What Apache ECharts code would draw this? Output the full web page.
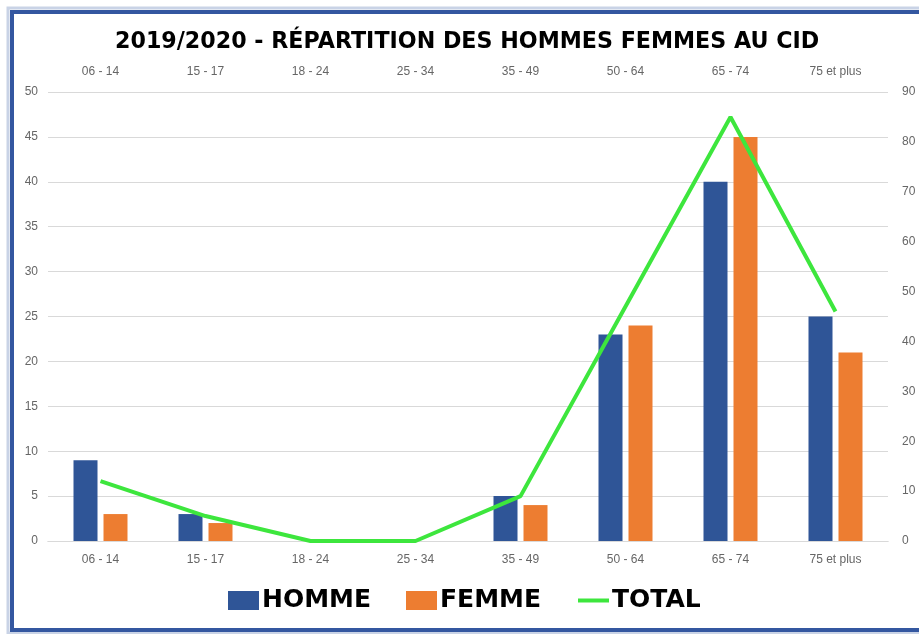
<!DOCTYPE html>
<html>
<head>
<meta charset="utf-8">
<script src="https://cdn.jsdelivr.net/npm/echarts@6/dist/echarts.min.js"></script>
<style>
html,body{margin:0;padding:0;background:#ffffff;overflow:hidden;}
#chart{width:919px;height:634px;}
</style>
</head>
<body>
<div id="chart"></div>
<script>
const categories = ['06 - 14','15 - 17','18 - 24','25 - 34','35 - 49','50 - 64','65 - 74','75 et plus'];
const homme = [9, 3, 0, 0, 5, 23, 40, 25];
const femme = [3, 2, 0, 0, 4, 24, 45, 21];
const total = [12, 5, 0, 0, 9, 47, 85, 46];
const titleText = '2019/2020 - RÉPARTITION DES HOMMES FEMMES AU CID';

const chart = echarts.init(document.getElementById('chart'));
const labelStyle = {color:'#666666', fontSize:12, fontFamily:'Liberation Sans'};
chart.setOption({
  animation:false,
  backgroundColor:'#ffffff',
  title:{text:titleText,left:110,top:26,
    textStyle:{fontFamily:'DejaVu Sans',fontWeight:'bold',fontSize:22.2,color:'#000000'}},
  legend:{top:583,left:223,itemWidth:31,itemHeight:19,itemGap:35,
    textStyle:{fontFamily:'DejaVu Sans',fontWeight:'bold',fontSize:25,color:'#000000',padding:[0,0,0,-2]},
    data:[{name:'HOMME',icon:'rect'},{name:'FEMME',icon:'rect'},
          {name:'TOTAL',itemStyle:{opacity:0},lineStyle:{width:4,color:'#3de63d'}}]},
  grid:{left:48,right:31,top:92,bottom:93},
  xAxis:[
    {type:'category',data:categories,position:'bottom',
     axisLine:{lineStyle:{color:'#d9d9d9'}},axisTick:{lineStyle:{color:'#d9d9d9'},length:5},
     axisLabel:Object.assign({margin:13},labelStyle)},
    {type:'category',data:categories,position:'top',
     axisLine:{lineStyle:{color:'#d9d9d9'}},axisTick:{lineStyle:{color:'#d9d9d9'},length:5},
     axisLabel:Object.assign({margin:14},labelStyle)}
  ],
  yAxis:[
    {type:'value',min:0,max:50,interval:5,position:'left',
     axisLine:{show:false},axisTick:{show:false},
     splitLine:{lineStyle:{color:'#d9d9d9'}},
     axisLabel:Object.assign({margin:10},labelStyle)},
    {type:'value',min:0,max:90,interval:10,position:'right',
     axisLine:{show:false},axisTick:{show:false},splitLine:{show:false},
     axisLabel:Object.assign({margin:14},labelStyle)}
  ],
  graphic:[
    {type:'rect',shape:{x:8,y:8,width:1000,height:625},style:{fill:'none',stroke:'#c9d3e6',lineWidth:3}},
    {type:'rect',shape:{x:12,y:12,width:1000,height:618},style:{fill:'none',stroke:'#3457a0',lineWidth:4}}
  ],
  series:[
    {name:'HOMME',type:'bar',data:homme,xAxisIndex:0,yAxisIndex:0,barWidth:24,barGap:'25%',
     itemStyle:{color:'#2f5597'}},
    {name:'FEMME',type:'bar',data:femme,xAxisIndex:0,yAxisIndex:0,barWidth:24,barGap:'25%',
     itemStyle:{color:'#ed7d31'}},
    {name:'TOTAL',type:'line',data:total,xAxisIndex:0,yAxisIndex:1,symbol:'none',
     lineStyle:{color:'#3de63d',width:4},itemStyle:{color:'#3de63d'}}
  ]
});
</script>
</body>
</html>
